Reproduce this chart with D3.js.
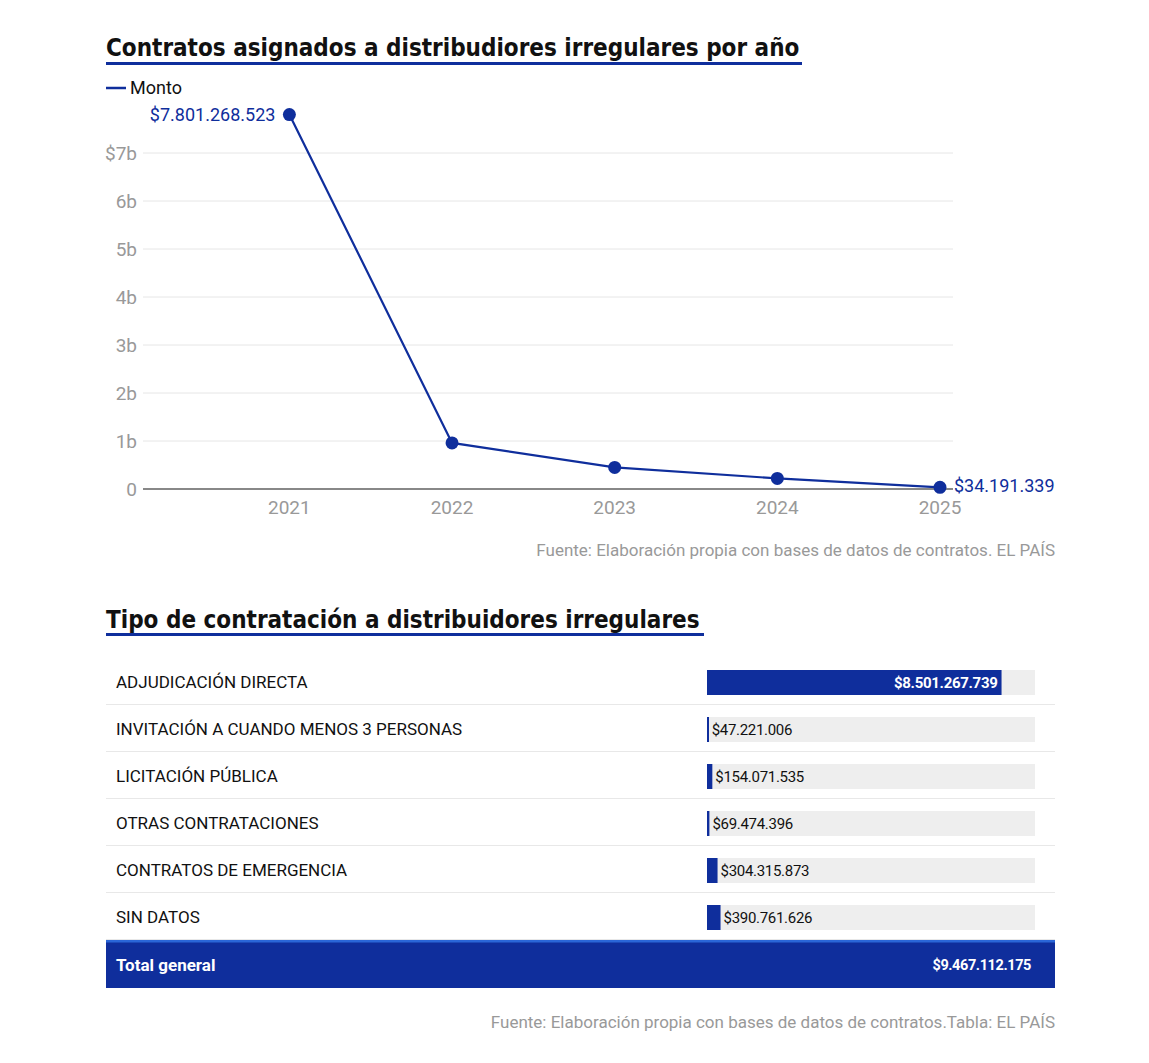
<!DOCTYPE html>
<html>
<head>
<meta charset="utf-8">
<script src="https://cdn.jsdelivr.net/npm/d3@7"></script>
<style>
  body { margin: 0; background: #fff; }
  svg text { font-family: "Roboto", "Liberation Sans", sans-serif; }
  svg text.title { font-family: "DejaVu Sans Condensed", "Roboto", sans-serif; }
</style>
</head>
<body>
<div id="chart"></div>
<script>
// line chart data
var years = [2021, 2022, 2023, 2024, 2025];
var montos = [7801268523, 960000000, 450000000, 221000000, 34191339];
var yTicks = [0, 1e9, 2e9, 3e9, 4e9, 5e9, 6e9, 7e9];

// table data
var tipos = ["ADJUDICACIÓN DIRECTA", "INVITACIÓN A CUANDO MENOS 3 PERSONAS", "LICITACIÓN PÚBLICA",
             "OTRAS CONTRATACIONES", "CONTRATOS DE EMERGENCIA", "SIN DATOS"];
var tipoMontos = [8501267739, 47221006, 154071535, 69474396, 304315873, 390761626];
var totalGeneral = 9467112175;

var blue = "#0f2e9c",
    grey = "#999",
    width = 1149, height = 1063;

var fmt = function(v) {
  return "$" + String(Math.round(v)).replace(/\B(?=(\d{3})+(?!\d))/g, ".");
};

var svg = d3.select("#chart").append("svg")
    .attr("width", width)
    .attr("height", height);

// TITLE 1
svg.append("text")
  .attr("class", "title")
  .attr("x", 106).attr("y", 56)
  .style("font-size", "24px").style("font-weight", "bold").style("fill", "#111")
  .text("Contratos asignados a distribudiores irregulares por año");
svg.append("rect").attr("x", 106).attr("y", 62).attr("width", 696).attr("height", 3).style("fill", blue);

// legend
svg.append("line").attr("x1", 106).attr("x2", 126).attr("y1", 88).attr("y2", 88)
  .style("stroke", blue).style("stroke-width", 2.5);
svg.append("text").attr("x", 130).attr("y", 94)
  .style("font-size", "18px").style("fill", "#111").text("Monto");

// SCALES
var x = d3.scaleLinear().domain([2020.1, 2025.08]).range([143, 953]);
var y = d3.scaleLinear().domain([0, 7e9]).range([489, 153]);

var g = svg.append("g");

// grid
g.selectAll("line.grid")
  .data(yTicks.filter(function(d) { return d > 0; }))
  .enter().append("line")
  .attr("class", "grid")
  .attr("x1", x.range()[0]).attr("x2", x.range()[1])
  .attr("y1", y).attr("y2", y)
  .style("stroke", "#e6e6e6").style("stroke-width", 1);

g.append("line")
  .attr("x1", x.range()[0]).attr("x2", x.range()[1])
  .attr("y1", y(0)).attr("y2", y(0))
  .style("stroke", "#888").style("stroke-width", 2);

// y labels
g.selectAll("text.ylab")
  .data(yTicks)
  .enter().append("text")
  .attr("class", "ylab")
  .attr("x", 137).attr("y", function(d) { return y(d) + 7; })
  .attr("text-anchor", "end")
  .style("font-size", "19px").style("fill", grey)
  .text(function(d, i) {
    if (d === 0) return "0";
    return (i === yTicks.length - 1 ? "$" : "") + (d / 1e9) + "b";
  });

// x labels
g.selectAll("text.xlab")
  .data(years)
  .enter().append("text")
  .attr("class", "xlab")
  .attr("x", x).attr("y", 514)
  .attr("text-anchor", "middle")
  .style("font-size", "19px").style("fill", grey)
  .text(function(d) { return d; });

// line
var pts = years.map(function(d, i) { return [d, montos[i]]; });
var line = d3.line().x(function(d) { return x(d[0]); }).y(function(d) { return y(d[1]); });

g.append("path").datum(pts)
  .attr("d", line)
  .style("fill", "none").style("stroke", blue).style("stroke-width", 2.2);

g.selectAll("circle.dot")
  .data(pts)
  .enter().append("circle")
  .attr("class", "dot")
  .attr("cx", function(d) { return x(d[0]); })
  .attr("cy", function(d) { return y(d[1]); })
  .attr("r", 6.5)
  .style("fill", blue);

// end labels
g.append("text")
  .attr("x", x(years[0]) - 14).attr("y", y(montos[0]) + 6)
  .attr("text-anchor", "end")
  .style("font-size", "18px").style("fill", blue)
  .text(fmt(montos[0]));
g.append("text")
  .attr("x", x(years[4]) + 14).attr("y", y(montos[4]) + 5)
  .style("font-size", "18px").style("fill", blue)
  .text(fmt(montos[4]));

svg.append("text")
  .attr("x", 1055).attr("y", 556)
  .attr("text-anchor", "end")
  .style("font-size", "17px").style("fill", grey)
  .text("Fuente: Elaboración propia con bases de datos de contratos. EL PAÍS");

// TITLE 2
svg.append("text")
  .attr("class", "title")
  .attr("x", 106).attr("y", 628)
  .style("font-size", "24px").style("font-weight", "bold").style("fill", "#111")
  .text("Tipo de contratación a distribuidores irregulares");
svg.append("rect").attr("x", 106).attr("y", 633).attr("width", 598).attr("height", 3).style("fill", blue);

// TABLE
var rowH = 47, tableTop = 658;
var xb = d3.scaleLinear().domain([0, totalGeneral]).range([707, 1035]);
var inside = function(i) { return xb(tipoMontos[i]) - xb(0) > 150; };

var rows = svg.selectAll("g.row")
  .data(tipos)
  .enter().append("g")
  .attr("class", "row")
  .attr("transform", function(d, i) { return "translate(0," + (tableTop + i * rowH) + ")"; });

rows.append("line")
  .attr("x1", 106).attr("x2", 1055)
  .attr("y1", rowH - 0.5).attr("y2", rowH - 0.5)
  .style("stroke", "#e8e8e8").style("stroke-width", 1);

rows.append("text")
  .attr("x", 116).attr("y", 30)
  .style("font-size", "17px").style("fill", "#111")
  .text(function(d) { return d; });

rows.append("rect")
  .attr("x", xb(0)).attr("y", 12)
  .attr("width", xb(totalGeneral) - xb(0)).attr("height", 25)
  .style("fill", "#eeeeee");

rows.append("rect")
  .attr("x", xb(0)).attr("y", 12)
  .attr("width", function(d, i) { return Math.max(2, xb(tipoMontos[i]) - xb(0)); })
  .attr("height", 25)
  .style("fill", blue);

rows.append("text")
  .attr("y", 30)
  .attr("x", function(d, i) {
    var w = xb(tipoMontos[i]);
    return inside(i) ? w - 4 : w + 3;
  })
  .attr("text-anchor", function(d, i) { return inside(i) ? "end" : "start"; })
  .style("font-size", "15px")
  .style("letter-spacing", "-0.3px")
  .style("fill", function(d, i) { return inside(i) ? "#fff" : "#111"; })
  .style("font-weight", function(d, i) { return inside(i) ? "bold" : "normal"; })
  .text(function(d, i) { return fmt(tipoMontos[i]); });

// total row
var ty = tableTop + tipos.length * rowH;
svg.append("rect").attr("x", 106).attr("y", ty).attr("width", 949).attr("height", 48).style("fill", blue);
svg.append("rect").attr("x", 106).attr("y", ty).attr("width", 949).attr("height", 2.5).style("fill", "#2a66d8");
svg.append("text").attr("x", 116).attr("y", ty + 31)
  .style("font-size", "17px").style("font-weight", "bold").style("fill", "#fff")
  .text("Total general");
svg.append("text").attr("x", 1031).attr("y", ty + 30)
  .attr("text-anchor", "end")
  .style("font-size", "14.5px").style("font-weight", "bold").style("letter-spacing", "-0.4px").style("fill", "#fff")
  .text(fmt(totalGeneral));

svg.append("text")
  .attr("x", 1055).attr("y", 1028)
  .attr("text-anchor", "end")
  .style("font-size", "17px").style("fill", grey)
  .text("Fuente: Elaboración propia con bases de datos de contratos.Tabla: EL PAÍS");
</script>
</body>
</html>
